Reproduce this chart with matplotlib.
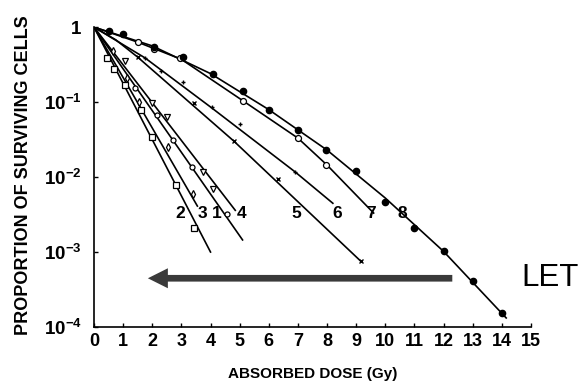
import numpy as np
import matplotlib
matplotlib.use('Agg')
import matplotlib.pyplot as plt

plt.rcParams['font.family'] = ['Liberation Sans', 'DejaVu Sans']
plt.rcParams['mathtext.fontset'] = 'custom'
plt.rcParams['mathtext.bf'] = 'Liberation Sans:bold'
plt.rcParams['mathtext.rm'] = 'Liberation Sans'

# survival curves, curve 1 = highest LET ... curve 8 = lowest LET
# fitted lines (dose in Gy, surviving fraction)
line1_d = [0, 5.1]
line1_s = [1, 0.00145]
line2_d = [0, 4.0]
line2_s = [1, 0.001]
line3_d = [0, 3.55]
line3_s = [1, 0.0041]
line4_d = [0, 4.85]
line4_s = [1, 0.0036]
line5_d = [0, 0.75, 1.5, 4.8, 9.15]
line5_s = [1, 0.676, 0.398, 0.0302, 0.00076]
line6_d = [0, 1.75, 4.05, 6.9, 8.2]
line6_s = [1, 0.389, 0.0832, 0.01175, 0.00447]
line7_d = [0, 1.5, 3.0, 5.1, 7.0, 8.0, 9.6]
line7_s = [1, 0.631, 0.372, 0.105, 0.0331, 0.01445, 0.00331]
line8_d = [0, 2, 4, 6, 8, 10, 12, 14.15]
line8_s = [1, 0.562, 0.24, 0.0794, 0.0229, 0.00525, 0.00102, 0.000132]

# measured points
pts1_d = [1.4, 2.15, 2.7, 3.35, 4.55]
pts1_s = [0.155, 0.068, 0.031, 0.0135, 0.0032]
pts2_d = [0.45, 0.7, 1.05, 1.6, 2.0, 2.8, 3.45]
pts2_s = [0.39, 0.28, 0.17, 0.079, 0.034, 0.0079, 0.0021]
pts3_d = [0.65, 1.15, 1.55, 2.55, 3.4]
pts3_s = [0.48, 0.21, 0.10, 0.025, 0.0059]
pts4_d = [1.05, 2.0, 2.5, 3.75, 4.1]
pts4_s = [0.35, 0.098, 0.063, 0.0117, 0.0069]
pts5_d = [1.5, 3.45, 4.8, 6.3, 9.15]
pts5_s = [0.40, 0.098, 0.030, 0.0095, 0.00076]
pts6_d = [1.75, 2.3, 3.05, 4.05, 5.0, 6.9]
pts6_s = [0.39, 0.257, 0.186, 0.085, 0.051, 0.0117]
pts7_d = [1.5, 2.05, 2.95, 5.1, 7.0, 7.95]
pts7_s = [0.63, 0.51, 0.39, 0.102, 0.033, 0.0145]
pts8_d = [0.5, 1.0, 2.05, 3.05, 4.1, 5.1, 6.0, 7.0, 7.95, 9.0, 10.0, 11.0, 12.0, 13.0, 14.0]
pts8_s = [0.89, 0.81, 0.55, 0.40, 0.234, 0.141, 0.078, 0.0427, 0.0229, 0.012,
          0.00468, 0.00209, 0.00102, 0.000407, 0.000155]

# curve numbers and where they sit
lab_text = ['2', '3', '1', '4', '5', '6', '7', '8']
lab_x = [2.95, 3.74, 4.22, 5.08, 6.96, 8.34, 9.5, 10.6]
lab_y = 10 ** -2.48

xticks = list(range(16))
yticks = [1e-4, 1e-3, 1e-2, 1e-1, 1]
ylabels = [r'$\mathbf{10^{-4}}$', r'$\mathbf{10^{-3}}$', r'$\mathbf{10^{-2}}$',
           r'$\mathbf{10^{-1}}$', r'$\mathbf{1}$']

fig = plt.figure(figsize=(5.78, 3.82), dpi=100)
ax = fig.add_axes([0.1626, 0.144, 0.756, 0.785])

lines = [(line1_d, line1_s), (line2_d, line2_s), (line3_d, line3_s), (line4_d, line4_s),
         (line5_d, line5_s), (line6_d, line6_s), (line7_d, line7_s), (line8_d, line8_s)]
for d, s in lines:
    ax.plot(d, s, color='black', lw=1.2, zorder=2)

ms = dict(color='black', ls='none', zorder=3)
ax.plot(pts1_d, pts1_s, marker='o', ms=3.6, mfc='white', mew=0.9, **ms)
ax.plot(pts2_d, pts2_s, marker='s', ms=4.0, mfc='white', mew=0.9, **ms)
ax.plot(pts3_d, pts3_s, marker='d', ms=3.8, mfc='white', mew=0.9, **ms)
ax.plot(pts4_d, pts4_s, marker='v', ms=4.2, mfc='white', mew=0.9, **ms)
ax.plot(pts5_d, pts5_s, marker='x', ms=3.5, mew=1.0, **ms)
ax.plot(pts6_d, pts6_s, marker='+', ms=3.5, mew=1.0, **ms)
ax.plot(pts7_d, pts7_s, marker='o', ms=4.3, mfc='white', mew=0.9, **ms)
ax.plot(pts8_d, pts8_s, marker='o', ms=4.5, mfc='black', **ms)

for t, x in zip(lab_text, lab_x):
    ax.text(x, lab_y, t, fontsize=12.5, fontweight='bold', ha='center', va='center')

# LET arrow
ax.annotate('', xy=(1.85, 10 ** -3.35), xytext=(12.3, 10 ** -3.35),
            arrowprops=dict(arrowstyle='simple,head_length=0.72,head_width=0.72,tail_width=0.24',
                            mutation_scale=20, color='#3a3a3a', lw=0,
                            shrinkA=0, shrinkB=0))
ax.text(14.68, 10 ** -3.35, 'LET', fontsize=22.5, ha='left', va='center', clip_on=False)

ax.set_yscale('log')
ax.set_xlim(0, 15)
ax.set_ylim(1e-4, 1)
ax.set_xticks(xticks)
ax.set_xticklabels([str(v) for v in xticks], fontsize=13, fontweight='bold')
ax.set_yticks(yticks)
ax.set_yticklabels(ylabels, fontsize=13.5)
ax.minorticks_off()
ax.tick_params(axis='x', direction='in', length=3, width=1, pad=4)
ax.tick_params(axis='y', direction='in', length=3, width=1, pad=9)

for side in ['top', 'right']:
    ax.spines[side].set_visible(False)
for side in ['left', 'bottom']:
    ax.spines[side].set_linewidth(1.2)

ax.set_xlabel('ABSORBED DOSE (Gy)', fontsize=11, fontweight='bold',
              family=['Liberation Sans Narrow', 'Liberation Sans'])
ax.xaxis.set_label_coords(0.5, -0.133)
ax.set_ylabel('PROPORTION OF SURVIVING CELLS', fontsize=13, fontweight='bold',
              family=['Liberation Sans Narrow', 'Liberation Sans'])
ax.yaxis.set_label_coords(-0.142, 0.507)

fig.savefig('out.png', dpi=100)
